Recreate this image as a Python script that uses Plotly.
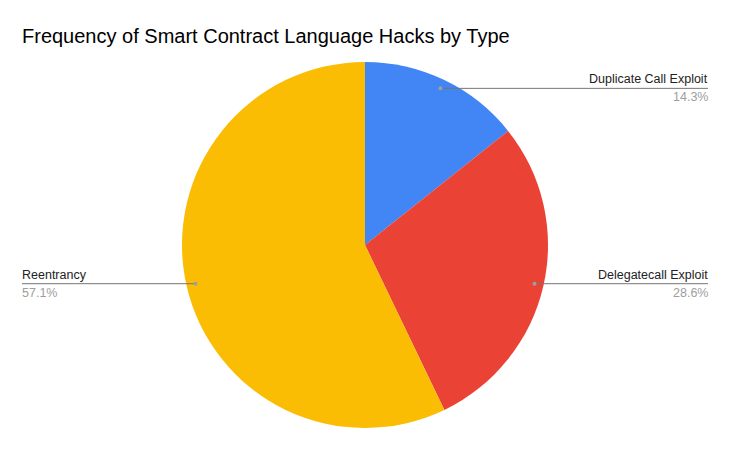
import math
import plotly.graph_objects as go

labels = ["Duplicate Call Exploit", "Delegatecall Exploit", "Reentrancy"]
values = [1, 2, 4]
colors = ["#4285F4", "#EA4335", "#FBBC04"]

W, H = 730, 451
cx, cy, r = 365, 245, 183
font = "Liberation Sans, Arial"

fig = go.Figure()
fig.add_trace(go.Pie(labels=labels, values=values, sort=False, direction="clockwise",
                     rotation=0, textinfo="none", hoverinfo="label+percent",
                     marker=dict(colors=colors, line=dict(width=0)),
                     domain=dict(x=[(cx - r) / W, (cx + r) / W],
                                 y=[(H - cy - r) / H, (H - cy + r) / H]),
                     showlegend=False))
# empty trace so the pixel-space axes exist
fig.add_trace(go.Scatter(x=[], y=[], showlegend=False))

# leader lines + labels, placed at each slice's mid angle (shapes sit above the pie)
total = sum(values)
start = 0.0
for lab, v in zip(labels, values):
    frac = v / total
    mid = (start + frac / 2) * 2 * math.pi
    start += frac
    px = cx + 0.95 * r * math.sin(mid)
    py = cy - 0.95 * r * math.cos(mid)
    right = px >= cx
    ex = 708 if right else 22
    fig.add_shape(type="line", x0=px, x1=ex, y0=py, y1=py, xref="x", yref="y", layer="above",
                  line=dict(color="#757575", width=1))
    fig.add_shape(type="circle", x0=px - 2, x1=px + 2, y0=py - 2, y1=py + 2, xref="x", yref="y",
                  layer="above", fillcolor="#9e9e9e", line=dict(width=0))
    anchor = "right" if right else "left"
    fig.add_annotation(x=ex, y=py, text=lab, showarrow=False, xanchor=anchor, yanchor="bottom",
                       yshift=0, xshift=2 if right else -2,
                       font=dict(family=font, size=12.5, color="#222222"))
    fig.add_annotation(x=ex, y=py, text=f"{frac * 100:.1f}%", showarrow=False, xanchor=anchor,
                       yanchor="top", yshift=0, xshift=2 if right else -2,
                       font=dict(family=font, size=12.5, color="#9e9e9e"))

fig.update_layout(
    width=W, height=H, margin=dict(l=0, r=0, t=0, b=0),
    paper_bgcolor="white", plot_bgcolor="rgba(0,0,0,0)",
    title=dict(text="Frequency of Smart Contract Language Hacks by Type", x=22 / W, xanchor="left",
               y=1 - 36 / H, yanchor="middle", font=dict(family=font, size=20, color="#000000")),
    xaxis=dict(range=[0, W], visible=False, fixedrange=True),
    yaxis=dict(range=[H, 0], visible=False, fixedrange=True),
)

fig.write_html("out.html", config={"displayModeBar": False},
               post_script="document.body.style.margin='0';")
